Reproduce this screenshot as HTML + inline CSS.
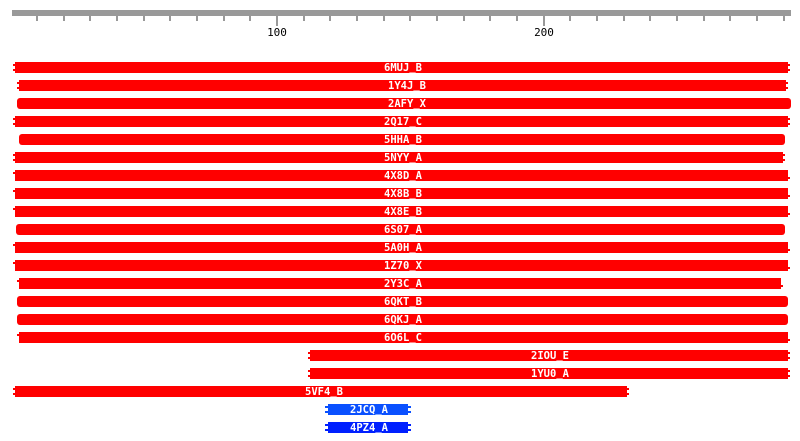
<!DOCTYPE html>
<html><head><meta charset="utf-8"><style>
html,body{margin:0;padding:0;background:#fff;}
svg{display:block;}
text{font-family:"DejaVu Sans Mono","Liberation Mono",monospace;}
.l{fill:#fff;font-size:10.5px;font-weight:bold;text-anchor:middle;}
</style></head><body>
<svg width="800" height="441" viewBox="0 0 800 441" xmlns="http://www.w3.org/2000/svg">
<rect x="12" y="10" width="779" height="6" fill="#999"/>
<g fill="#999">
<rect x="36" y="16" width="2" height="5"/><rect x="63" y="16" width="2" height="5"/><rect x="89" y="16" width="2" height="5"/><rect x="116" y="16" width="2" height="5"/><rect x="143" y="16" width="2" height="5"/><rect x="169" y="16" width="2" height="5"/><rect x="196" y="16" width="2" height="5"/><rect x="223" y="16" width="2" height="5"/><rect x="249" y="16" width="2" height="5"/>
<rect x="276" y="16" width="2" height="10"/>
<rect x="303" y="16" width="2" height="5"/><rect x="329" y="16" width="2" height="5"/><rect x="356" y="16" width="2" height="5"/><rect x="383" y="16" width="2" height="5"/><rect x="409" y="16" width="2" height="5"/><rect x="436" y="16" width="2" height="5"/><rect x="463" y="16" width="2" height="5"/><rect x="489" y="16" width="2" height="5"/><rect x="516" y="16" width="2" height="5"/>
<rect x="543" y="16" width="2" height="10"/>
<rect x="569" y="16" width="2" height="5"/><rect x="596" y="16" width="2" height="5"/><rect x="623" y="16" width="2" height="5"/><rect x="649" y="16" width="2" height="5"/><rect x="676" y="16" width="2" height="5"/><rect x="703" y="16" width="2" height="5"/><rect x="729" y="16" width="2" height="5"/><rect x="756" y="16" width="2" height="5"/><rect x="783" y="16" width="2" height="5"/>
</g>
<text x="277" y="36" font-size="11" text-anchor="middle" fill="#000">100</text>
<text x="544" y="36" font-size="11" text-anchor="middle" fill="#000">200</text>

<g fill="#ff0000">
<rect x="15" y="62" width="773" height="11"/>
<rect x="19" y="80" width="767" height="11"/>
<rect x="17" y="98" width="774" height="11" rx="3"/>
<rect x="15" y="116" width="773" height="11"/>
<rect x="19" y="134" width="766" height="11" rx="3"/>
<rect x="15" y="152" width="768" height="11"/>
<rect x="15" y="170" width="773" height="11"/>
<rect x="15" y="188" width="773" height="11"/>
<rect x="15" y="206" width="773" height="11"/>
<rect x="16" y="224" width="769" height="11" rx="3"/>
<rect x="15" y="242" width="773" height="11"/>
<rect x="15" y="260" width="773" height="11"/>
<rect x="19" y="278" width="762" height="11"/>
<rect x="17" y="296" width="771" height="11" rx="3"/>
<rect x="17" y="314" width="771" height="11" rx="3"/>
<rect x="19" y="332" width="769" height="11"/>
<rect x="310" y="350" width="478" height="11"/>
<rect x="310" y="368" width="478" height="11"/>
<rect x="15" y="386" width="612" height="11"/>
</g>
<g fill="#ff0000">
<rect x="13" y="64" width="3" height="2"/><rect x="13" y="69" width="3" height="2"/><rect x="787" y="64" width="3" height="2"/><rect x="787" y="69" width="3" height="2"/>
<rect x="17" y="82" width="3" height="2"/><rect x="17" y="87" width="3" height="2"/><rect x="785" y="82" width="3" height="2"/><rect x="785" y="87" width="3" height="2"/>
<rect x="13" y="118" width="3" height="2"/><rect x="13" y="123" width="3" height="2"/><rect x="787" y="118" width="3" height="2"/><rect x="787" y="123" width="3" height="2"/>
<rect x="13" y="154" width="3" height="2"/><rect x="13" y="159" width="3" height="2"/><rect x="782" y="154" width="3" height="2"/><rect x="782" y="159" width="3" height="2"/>
<rect x="13" y="172" width="3" height="2"/><rect x="787" y="177" width="3" height="2"/><rect x="13" y="190" width="3" height="2"/><rect x="787" y="195" width="3" height="2"/>
<rect x="13" y="208" width="3" height="2"/><rect x="787" y="213" width="3" height="2"/><rect x="13" y="244" width="3" height="2"/><rect x="787" y="249" width="3" height="2"/>
<rect x="13" y="262" width="3" height="2"/><rect x="787" y="267" width="3" height="2"/><rect x="17" y="280" width="3" height="2"/><rect x="780" y="285" width="3" height="2"/>
<rect x="17" y="334" width="3" height="2"/><rect x="787" y="339" width="3" height="2"/>
<rect x="308" y="352" width="3" height="2"/><rect x="308" y="357" width="3" height="2"/><rect x="787" y="352" width="3" height="2"/><rect x="787" y="357" width="3" height="2"/>
<rect x="308" y="370" width="3" height="2"/><rect x="308" y="375" width="3" height="2"/><rect x="787" y="370" width="3" height="2"/><rect x="787" y="375" width="3" height="2"/>
<rect x="13" y="388" width="3" height="2"/><rect x="13" y="393" width="3" height="2"/><rect x="626" y="388" width="3" height="2"/><rect x="626" y="393" width="3" height="2"/>
</g>
<rect x="328" y="404" width="80" height="11" fill="#0a50ff"/>
<rect x="325" y="406" width="4" height="2" fill="#0a50ff"/><rect x="325" y="411" width="4" height="2" fill="#0a50ff"/><rect x="407" y="406" width="4" height="2" fill="#0a50ff"/><rect x="407" y="411" width="4" height="2" fill="#0a50ff"/>
<rect x="328" y="422" width="80" height="11" fill="#0020ff"/>
<rect x="325" y="424" width="4" height="2" fill="#0020ff"/><rect x="325" y="429" width="4" height="2" fill="#0020ff"/><rect x="407" y="424" width="4" height="2" fill="#0020ff"/><rect x="407" y="429" width="4" height="2" fill="#0020ff"/>

<text class="l" x="403" y="71">6MUJ_B</text>
<text class="l" x="407" y="89">1Y4J_B</text>
<text class="l" x="407" y="107">2AFY_X</text>
<text class="l" x="403" y="125">2Q17_C</text>
<text class="l" x="403" y="143">5HHA_B</text>
<text class="l" x="403" y="161">5NYY_A</text>
<text class="l" x="403" y="179">4X8D_A</text>
<text class="l" x="403" y="197">4X8B_B</text>
<text class="l" x="403" y="215">4X8E_B</text>
<text class="l" x="403" y="233">6S07_A</text>
<text class="l" x="403" y="251">5A0H_A</text>
<text class="l" x="403" y="269">1Z70_X</text>
<text class="l" x="403" y="287">2Y3C_A</text>
<text class="l" x="403" y="305">6QKT_B</text>
<text class="l" x="403" y="323">6QKJ_A</text>
<text class="l" x="403" y="341">6O6L_C</text>
<text class="l" x="550" y="359">2IOU_E</text>
<text class="l" x="550" y="377">1YU0_A</text>
<text class="l" x="324" y="395">5VF4_B</text>
<text class="l" x="369" y="413">2JCQ_A</text>
<text class="l" x="369" y="431">4PZ4_A</text>
</svg>
</body></html>
